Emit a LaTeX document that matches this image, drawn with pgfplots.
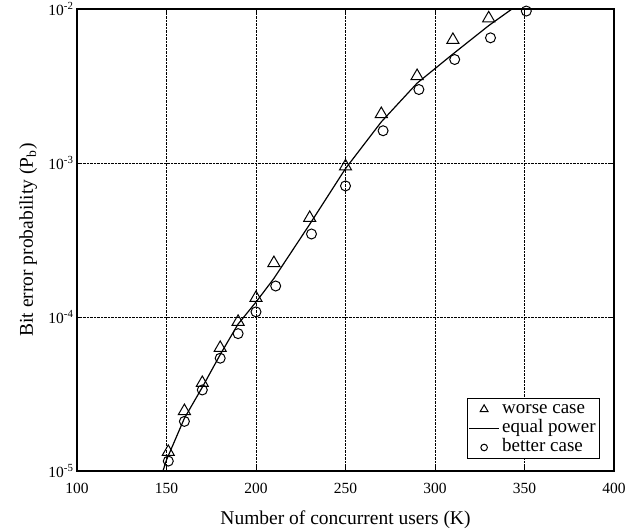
\documentclass[border=0pt]{standalone}
\usepackage{fontspec}
\setmainfont{Liberation Serif}
\usepackage{pgfplots}
\pgfplotsset{compat=1.18}
\pgfplotsset{
  mylegmark/.style={legend image code/.code={\draw[##1, mark size=#1] plot coordinates {(15pt,0pt)};}},
  mylegline/.style={legend image code/.code={\draw[##1] (0pt,0pt) -- (30pt,0pt);}},
}
\begin{document}
\begin{tikzpicture}
\begin{semilogyaxis}[
  scale only axis,
  width=537pt, height=462pt,
  xmin=100, xmax=400, ymin=1e-5, ymax=1e-2,
  xtick={100,150,200,250,300,350,400},
  ytick={1e-5,1e-4,1e-3,1e-2},
  yticklabels={10\textsuperscript{-5},10\textsuperscript{-4},10\textsuperscript{-3},10\textsuperscript{-2}},
  minor ytick={}, yminorticks=false,
  /pgf/number format/assume math mode=true,
  tick label style={font=\fontsize{15.5}{17}\selectfont},
  xticklabel style={yshift=-9pt},
  label style={font=\fontsize{19.5}{22}\selectfont},
  xlabel={Number of concurrent users (K)},
  ylabel={Bit error probability (P\textsubscript{b})},
  xlabel style={at={([yshift=-53pt]axis description cs:0.5,0)}, anchor=base},
  ylabel style={at={([xshift=-44pt]axis description cs:0,0.5)}, anchor=base},
  grid=major,
  major grid style={black, densely dotted, line width=0.8pt},
  axis line style={black, line width=1.2pt},
  tick style={black, line width=0.6pt},
  major tick length=4pt,
  tick align=inside,
  legend style={at={(0.974,0.026)}, anchor=south east, draw=black, line width=0.9pt,
    font=\fontsize{19}{20}\selectfont, inner sep=1.5pt,
    nodes={inner xsep=2.5pt, inner ysep=0.8pt, text height=13pt, text depth=4.5pt},
    legend cell align=left},
  clip=true,
]
\coordinate (ll) at (rel axis cs:0,0);
\coordinate (ur) at (rel axis cs:1,1);
\addplot[only marks, mark=triangle, mark size=7pt, mark options={solid, line width=1pt, black},
  mylegmark=4.5pt] coordinates {
(151,1.33e-5) (160,2.45e-5) (170,3.73e-5) (180,6.3e-5) (190,9.3e-5) (200,1.33e-4)
(210,2.24e-4) (230,4.4e-4) (250,9.5e-4) (270,2.08e-3) (290,3.67e-3) (310,6.3e-3) (330,8.7e-3)
};
\addlegendentry{worse case}
\addplot[black, line width=1.2pt, no marks, mylegline] coordinates {
(148,1e-5) (150,1.18e-5) (160,2.2e-5) (170,3.5e-5) (180,5.7e-5) (190,9e-5) (200,1.25e-4)
(210,1.78e-4) (230,4.0e-4) (250,9.2e-4) (270,1.85e-3) (290,3.3e-3) (310,5.1e-3) (330,7.8e-3) (343,1e-2)
};
\addlegendentry{equal power}
\addplot[only marks, mark=o, mark size=5pt, mark options={solid, line width=1pt, black},
  mylegmark=3.3pt] coordinates {
(151,1.16e-5) (160,2.1e-5) (170,3.36e-5) (180,5.4e-5) (190,7.8e-5) (200,1.08e-4)
(211,1.59e-4) (231,3.46e-4) (250,7.1e-4) (271,1.62e-3) (291,3.0e-3) (311,4.7e-3) (331,6.5e-3) (351,9.7e-3)
};
\addlegendentry{better case}
\end{semilogyaxis}
\pgfresetboundingbox
\path (ll) ++(-77pt,-58pt) rectangle ([shift={(25pt,9pt)}]ur);
\end{tikzpicture}
\end{document}
